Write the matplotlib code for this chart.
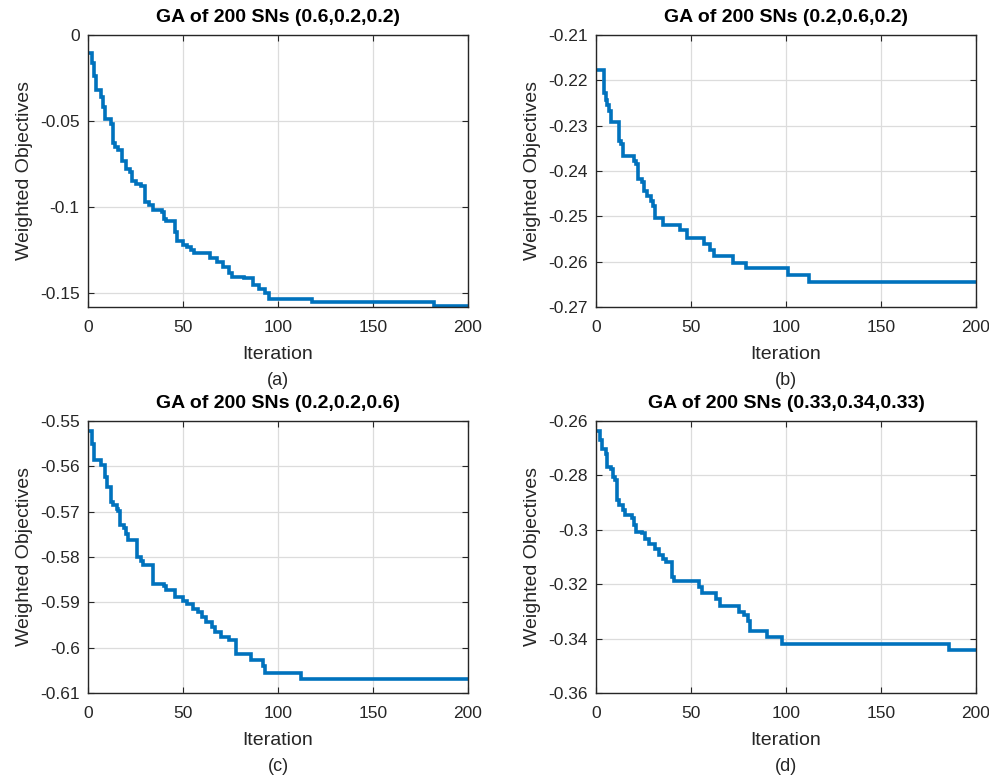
import matplotlib
matplotlib.use("Agg")
import matplotlib.pyplot as plt
from matplotlib.ticker import FuncFormatter

plt.rcParams['font.family'] = ['Liberation Sans', 'DejaVu Sans']
plt.rcParams['axes.unicode_minus'] = False

# (a) weights (0.6,0.2,0.2): iteration where a new best appears, and its value
a_iter = [1, 2, 3, 4, 7, 8, 9, 12, 13, 14, 16, 18, 20, 22, 23, 25, 28, 30, 32, 34, 39, 40, 41,
          46, 47, 50, 52, 54, 56, 64, 68, 71, 74, 76, 82, 87, 90, 93, 95, 118, 182]
a_val = [-0.0106, -0.0164, -0.024, -0.032, -0.036, -0.042, -0.049, -0.052, -0.0626, -0.065,
         -0.067, -0.0732, -0.078, -0.080, -0.0848, -0.0867, -0.088, -0.097, -0.099, -0.102,
         -0.103, -0.107, -0.1085, -0.1146, -0.120, -0.1224, -0.1233, -0.125, -0.127, -0.130,
         -0.132, -0.135, -0.1387, -0.1406, -0.1416, -0.1455, -0.148, -0.150, -0.1538, -0.1555,
         -0.1576]

# (b) weights (0.2,0.6,0.2)
b_iter = [1, 4, 5, 6, 7, 8, 12, 13, 14, 20, 21, 22, 24, 25, 27, 29, 30, 31, 35, 44, 48, 57,
          60, 62, 72, 79, 101, 112]
b_val = [-0.2177, -0.2228, -0.2243, -0.2254, -0.2268, -0.2292, -0.2334, -0.2341, -0.2368,
         -0.2378, -0.2385, -0.2418, -0.2424, -0.2444, -0.2455, -0.2466, -0.2477, -0.2503,
         -0.2519, -0.2531, -0.2548, -0.2561, -0.2575, -0.2588, -0.2602, -0.2615, -0.2630,
         -0.2645]

# (c) weights (0.2,0.2,0.6)
c_iter = [1, 2, 3, 7, 9, 10, 12, 13, 15, 16, 17, 19, 20, 21, 26, 28, 29, 34, 40, 41, 46, 50,
          52, 55, 58, 60, 62, 65, 67, 70, 74, 78, 86, 92, 93, 112]
c_val = [-0.5521, -0.5550, -0.5587, -0.5598, -0.5624, -0.5646, -0.5679, -0.5686, -0.5694,
         -0.5698, -0.5730, -0.5736, -0.5749, -0.5762, -0.5800, -0.5808, -0.5818, -0.5859,
         -0.5863, -0.5872, -0.5889, -0.5898, -0.5903, -0.5914, -0.5922, -0.5933, -0.5944,
         -0.5955, -0.5965, -0.5976, -0.5984, -0.6014, -0.6027, -0.6040, -0.6055, -0.6069]

# (d) weights (0.33,0.34,0.33)
d_iter = [1, 2, 3, 5, 6, 8, 9, 10, 11, 12, 14, 15, 19, 20, 21, 24, 26, 28, 31, 33, 35, 37,
          40, 41, 54, 56, 63, 65, 75, 78, 80, 81, 90, 98, 186]
d_val = [-0.2637, -0.2671, -0.2702, -0.2720, -0.2769, -0.2775, -0.2806, -0.2818, -0.2892,
         -0.2910, -0.2929, -0.2947, -0.2955, -0.2984, -0.3008, -0.3012, -0.3033, -0.3051,
         -0.3070, -0.3094, -0.3107, -0.3119, -0.3174, -0.3189, -0.3211, -0.3233, -0.3254,
         -0.3279, -0.3303, -0.3315, -0.3334, -0.3371, -0.3395, -0.3420, -0.3442]

n_iter = 200
titles = ['GA of 200 SNs (0.6,0.2,0.2)', 'GA of 200 SNs (0.2,0.6,0.2)',
          'GA of 200 SNs (0.2,0.2,0.6)', 'GA of 200 SNs (0.33,0.34,0.33)']
captions = ['(a)', '(b)', '(c)', '(d)']
ylims = [(-0.1583, 0), (-0.27, -0.21), (-0.61, -0.55), (-0.36, -0.26)]
yticks = [[-0.15, -0.1, -0.05, 0],
          [-0.27, -0.26, -0.25, -0.24, -0.23, -0.22, -0.21],
          [-0.61, -0.6, -0.59, -0.58, -0.57, -0.56, -0.55],
          [-0.36, -0.34, -0.32, -0.3, -0.28, -0.26]]
series = [(a_iter, a_val), (b_iter, b_val), (c_iter, c_val), (d_iter, d_val)]

W, H = 989, 781
fig = plt.figure(figsize=(W / 100, H / 100), dpi=100)
boxes = [(88, 35), (596, 35), (88, 421), (596, 421)]
ax_w, ax_h = 380, 272

line_color = '#0072BD'
text_color = '#262626'

for i, (bx, by) in enumerate(boxes):
    ax = fig.add_axes([bx / W, 1 - (by + ax_h) / H, ax_w / W, ax_h / H])
    it, val = series[i]
    ax.step(list(it) + [n_iter], list(val) + [val[-1]], where='post',
            color=line_color, lw=2.6, solid_joinstyle='miter')
    ax.set_xlim(0, n_iter)
    ax.set_ylim(*ylims[i])
    ax.set_xticks([0, 50, 100, 150, 200])
    ax.set_yticks(yticks[i])
    ax.yaxis.set_major_formatter(FuncFormatter(lambda v, p: '%g' % round(v, 4)))
    ax.grid(True, color='#dcdcdc', lw=0.9)
    ax.set_axisbelow(True)
    ax.tick_params(direction='in', length=4, width=0.8, top=True, right=True,
                   labelsize=12.5, colors=text_color, pad=6)
    ax.tick_params(axis='x', pad=9)
    for s in ax.spines.values():
        s.set_color(text_color)
        s.set_linewidth(1.0)
    ax.set_title(titles[i], fontsize=14, fontweight='bold', pad=9, color='black')
    ax.set_xlabel('Iteration', fontsize=14, color=text_color, labelpad=8)
    ax.set_ylabel('Weighted Objectives', fontsize=14, color=text_color, labelpad=5)
    ax.text(0.5, -0.272, captions[i], transform=ax.transAxes, ha='center', va='center',
            fontsize=13, color=text_color)

fig.savefig('out.png', dpi=100)
